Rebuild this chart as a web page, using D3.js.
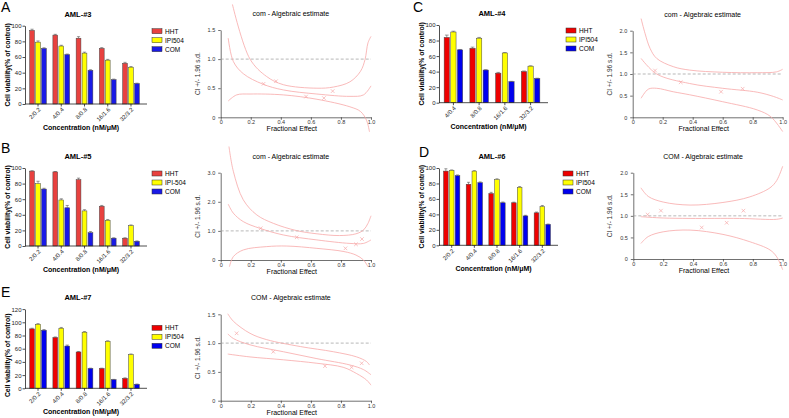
<!DOCTYPE html>
<html>
<head>
<meta charset="utf-8">
<script src="https://cdn.jsdelivr.net/npm/d3@7"></script>
<style>
  body { margin: 0; background: #fff; }
  svg { display: block; font-family: "Liberation Sans", Arial, sans-serif; }
</style>
</head>
<body>
<svg id="fig" width="789" height="418"></svg>
<script>
// categories
const conc5 = ["2/0.2", "4/0.4", "8/0.8", "16/1.6", "32/3.2"];
const conc4 = ["4/0.4", "8/0.8", "16/1.6", "32/3.2"];
const drugs = ["HHT", "IPI504", "COM"];
const drugsB = ["HHT", "IPI-504", "COM"];

// cell viability, % of control (HHT, IPI504, COM) + error bars
const aml3 = [[94, 88, 84, 71, 52], [79, 74, 65, 56, 47], [71, 63, 43, 31, 26]];
const aml3Err = [[1.5, 1, 2, 1, 1.2], [1.5, 1, 1.2, 1, 0.8], [0.8, 0.8, 0.8, 0.8, 0.6]];
const aml5 = [[96, 95, 85, 51, 10], [80, 59, 45, 33, 26], [73, 49, 17, 10, 6]];
const aml5Err = [[0.5, 0.5, 2, 1, 0.5], [3, 1.5, 1.5, 1, 1], [1, 3, 1.5, 0.5, 0.5]];
const aml4 = [[84, 70, 38, 40], [91, 83, 64, 47], [68, 42, 27, 31]];
const aml4Err = [[3, 1.5, 1, 0.8], [1, 1, 0.5, 0.5], [0.5, 0.5, 0.5, 0.5]];
const aml6 = [[96, 79, 67, 55, 42], [97, 96, 85, 75, 50], [90, 81, 55, 38, 27]];
const aml6Err = [[3, 2.5, 1.5, 0.8, 1], [0.5, 0.5, 1, 1, 1.5], [1, 1, 1, 0.8, 0.5]];
const aml7 = [[90, 77, 55, 30, 15], [97, 91, 85, 71, 51], [88, 64, 30, 13, 6]];
const aml7Err = [[1, 0.8, 0.8, 0.5, 0.8], [1, 1.2, 1, 1, 1], [1, 1.5, 0.5, 0.5, 0.5]];

// combination index (fa, CI)
const ciA_fit = [[0.05, 1.36], [0.084, 0.96], [0.15, 0.75], [0.28, 0.57], [0.417, 0.47], [0.64, 0.40], [0.86, 0.36], [0.95, 0.385], [1.0, 0.54]];
const ciA_up = [[0.078, 1.94], [0.195, 1.0], [0.306, 0.70], [0.417, 0.56], [0.64, 0.50], [0.75, 0.52], [0.86, 0.61], [0.93, 0.79], [0.96, 0.99], [0.98, 1.28], [1.0, 1.39]];
const ciA_lo = [[0.05, 0.28], [0.106, 0.385], [0.195, 0.40], [0.417, 0.385], [0.64, 0.31], [0.86, 0.18], [0.93, 0.10], [0.97, -0.05], [0.99, -0.25]];
const ciA_pts = [[0.285, 0.575], [0.368, 0.62], [0.568, 0.356], [0.687, 0.33], [0.745, 0.45]];

const ciB_fit = [[0.05, 1.92], [0.084, 1.61], [0.15, 1.32], [0.26, 1.09], [0.417, 0.86], [0.64, 0.69], [0.86, 0.57], [0.95, 0.57], [1.0, 0.69]];
const ciB_up = [[0.055, 3.9], [0.084, 3.05], [0.15, 2.07], [0.24, 1.55], [0.35, 1.26], [0.505, 1.01], [0.64, 0.90], [0.79, 0.84], [0.90, 0.90], [0.95, 1.03], [0.98, 1.26], [1.0, 1.52]];
const ciB_lo = [[0.058, -0.23], [0.084, 0.115], [0.15, 0.345], [0.306, 0.46], [0.44, 0.48], [0.64, 0.40], [0.82, 0.29], [0.90, 0.17], [0.95, 0.0], [0.98, -0.23]];
const ciB_pts = [[0.266, 1.09], [0.506, 0.78], [0.83, 0.40], [0.90, 0.54], [0.94, 0.72]];

const ciC_fit = [[0.056, 1.36], [0.16, 1.0], [0.38, 0.78], [0.60, 0.67], [0.83, 0.58], [0.94, 0.48], [1.0, 0.40]];
const ciC_up = [[0.056, 2.28], [0.082, 1.94], [0.116, 1.59], [0.16, 1.36], [0.27, 1.17], [0.38, 1.09], [0.60, 1.04], [0.83, 1.03], [0.96, 1.05], [1.0, 1.11]];
const ciC_lo = [[0.056, 0.44], [0.104, 0.65], [0.16, 0.67], [0.27, 0.59], [0.38, 0.52], [0.60, 0.36], [0.83, 0.17], [0.92, 0.015], [1.0, -0.33]];
const ciC_pts = [[0.149, 1.08], [0.32, 0.81], [0.589, 0.59], [0.733, 0.66]];

const ciD_fit = [[0.05, 0.98], [0.20, 0.95], [0.38, 0.94], [0.71, 0.94], [0.96, 0.92], [1.0, 0.95]];
const ciD_up = [[0.051, 1.65], [0.10, 1.45], [0.20, 1.32], [0.38, 1.25], [0.60, 1.31], [0.78, 1.44], [0.915, 1.65], [0.96, 1.82], [1.0, 2.15]];
const ciD_lo = [[0.051, 0.36], [0.10, 0.52], [0.20, 0.63], [0.38, 0.67], [0.60, 0.57], [0.78, 0.40], [0.915, 0.21], [0.96, 0.05], [1.0, -0.25]];
const ciD_pts = [[0.096, 1.03], [0.185, 1.12], [0.458, 0.73], [0.625, 0.84], [0.737, 1.12]];

const ciE_fit = [[0.047, 1.16], [0.084, 1.08], [0.195, 0.97], [0.417, 0.85], [0.64, 0.73], [0.86, 0.62], [0.95, 0.54], [1.0, 0.45]];
const ciE_up = [[0.047, 1.51], [0.084, 1.38], [0.195, 1.17], [0.306, 1.06], [0.53, 0.94], [0.75, 0.85], [0.905, 0.76], [0.97, 0.68], [0.99, 0.62]];
const ciE_lo = [[0.047, 0.81], [0.195, 0.76], [0.417, 0.71], [0.64, 0.65], [0.815, 0.58], [0.905, 0.47], [0.97, 0.36], [1.0, 0.27]];
const ciE_pts = [[0.106, 1.17], [0.35, 0.85], [0.694, 0.60], [0.871, 0.58], [0.938, 0.65]];

const svg = d3.select("#fig");
const pink = "#f7a8a8";

function fmtTick(d) { return d === 0 ? "0" : d.toFixed(1); }

function drawBars(c) {
    const g = svg.append("g");
    const x0 = d3.scaleBand().domain(c.cats).range([c.axisX, c.right - 3]).paddingInner(0.28).paddingOuter(0.2);
    const x1 = d3.scaleBand().domain(d3.range(3)).range([0, x0.bandwidth()]).paddingInner(0.2);
    const y = d3.scaleLinear().domain([0, c.yMax]).range([c.y0, c.yTop]);

    // panel letter + title
    g.append("text").attr("x", c.letterX).attr("y", c.letterY).attr("font-size", 14).text(c.letter);
    g.append("text").attr("x", c.axisX + 53).attr("y", c.yTop - 9).attr("text-anchor", "middle")
        .attr("font-size", 7.5).attr("font-weight", "bold").text(c.title);

    // bars
    c.values.forEach((vals, s) => {
        vals.forEach((v, i) => {
            const bx = x0(c.cats[i]) + x1(s);
            const e = c.errs[s][i];
            g.append("line").attr("x1", bx + x1.bandwidth() / 2).attr("x2", bx + x1.bandwidth() / 2)
                .attr("y1", y(v)).attr("y2", y(v + e)).attr("stroke", "#555").attr("stroke-width", 0.6);
            g.append("line").attr("x1", bx + 0.8).attr("x2", bx + x1.bandwidth() - 0.8)
                .attr("y1", y(v + e)).attr("y2", y(v + e)).attr("stroke", "#555").attr("stroke-width", 0.6);
            g.append("rect").attr("x", bx).attr("y", y(v)).attr("width", x1.bandwidth())
                .attr("height", y(0) - y(v)).attr("fill", c.colors[s])
                .attr("stroke", "#444").attr("stroke-width", 0.5);
        });
    });

    // axes
    const ya = g.append("g").attr("transform", `translate(${c.axisX},0)`)
        .call(d3.axisLeft(y).tickValues(d3.range(0, c.yMax + 1, 20)).tickSize(2.5).tickSizeOuter(0));
    const xa = g.append("g").attr("transform", `translate(0,${c.y0})`)
        .call(d3.axisBottom(x0).tickSize(2.5).tickSizeOuter(0));
    xa.select(".domain").attr("d", `M${c.axisX},0H${c.right}`);
    [ya, xa].forEach(a => {
        a.selectAll("path,line").attr("stroke", "#222").attr("stroke-width", 0.8);
        a.selectAll("text").attr("font-size", 6).attr("font-family", "Liberation Sans, Arial, sans-serif").attr("fill", "#222");
    });
    ya.selectAll("text").attr("x", -3.5);
    xa.selectAll("text").attr("text-anchor", "end").attr("dy", null)
        .attr("transform", "translate(3,6) rotate(-45)").attr("y", 0).attr("x", 0);

    g.append("text").attr("x", (c.axisX + c.right) / 2 - 5).attr("y", c.y0 + 26)
        .attr("text-anchor", "middle").attr("font-size", 7).attr("font-weight", "bold").text("Concentration (nM/\u03bcM)");
    g.append("text").attr("transform", `translate(${c.axisX - 15},${(c.y0 + y(100)) / 2}) rotate(-90)`)
        .attr("text-anchor", "middle").attr("font-size", 6.8).attr("font-weight", "bold").text("Cell viability(% of control)");

    // legend
    c.names.forEach((n, s) => {
        const ly = y(100) + 5.5 + s * 9;
        g.append("rect").attr("x", c.legendX).attr("y", ly - 2.5).attr("width", 10).attr("height", 5)
            .attr("fill", c.colors[s]).attr("stroke", "#333").attr("stroke-width", 0.5);
        g.append("text").attr("x", c.legendX + 13).attr("y", ly + 2.3).attr("font-size", 6.5).text(n);
    });
}

function drawCI(c) {
    const g = svg.append("g");
    const x = d3.scaleLinear().domain([0, 1]).range([c.axisX, c.right]);
    const y = d3.scaleLinear().domain([0, c.yMax]).range([c.y0, c.yTop]);

    g.append("text").attr("x", (c.axisX + c.right) / 2 - 5).attr("y", c.yTop - 14).attr("text-anchor", "middle")
        .attr("font-size", 7).text(c.title);

    const ya = g.append("g").attr("transform", `translate(${c.axisX},0)`)
        .call(d3.axisLeft(y).tickValues(c.yTicks).tickFormat(fmtTick).tickSize(2.5).tickSizeOuter(0));
    const xa = g.append("g").attr("transform", `translate(0,${c.y0})`)
        .call(d3.axisBottom(x).tickValues([0, 0.2, 0.4, 0.6, 0.8, 1.0]).tickFormat(fmtTick).tickSize(2.5).tickSizeOuter(0));
    [ya, xa].forEach(a => {
        a.selectAll("path,line").attr("stroke", "#333").attr("stroke-width", 0.7);
        a.selectAll("text").attr("font-size", 5.5).attr("font-family", "Liberation Sans, Arial, sans-serif").attr("fill", "#333");
    });
    xa.selectAll("text").attr("y", 3);

    g.append("text").attr("x", (c.axisX + c.right) / 2 - 4).attr("y", c.y0 + 14).attr("text-anchor", "middle")
        .attr("font-size", 7).text("Fractional Effect");
    g.append("text").attr("transform", `translate(${c.axisX - 21},${(c.y0 + c.yTop) / 2}) rotate(-90)`)
        .attr("text-anchor", "middle").attr("font-size", 6.5).attr("fill", "#333").text("CI +/- 1.96 s.d.");

    g.append("line").attr("x1", x(0)).attr("x2", x(1)).attr("y1", y(1)).attr("y2", y(1))
        .attr("stroke", "#999").attr("stroke-width", 0.7).attr("stroke-dasharray", "3,2");

    const line = d3.line().x(d => x(d[0])).y(d => y(d[1])).curve(d3.curveCatmullRom);
    [c.up, c.fit, c.lo].forEach(s => {
        g.append("path").attr("d", line(s)).attr("fill", "none").attr("stroke", pink).attr("stroke-width", 0.8);
    });
    c.pts.forEach(p => {
        const px = x(p[0]), py = y(p[1]), r = 1.8;
        g.append("path").attr("d", `M${px - r},${py - r}L${px + r},${py + r}M${px - r},${py + r}L${px + r},${py - r}`)
            .attr("stroke", pink).attr("stroke-width", 0.7);
    });
}

const colsAB = ["#e8413f", "#ffff00", "#1a1ae6"];
const colsCDE = ["#ee0000", "#ffff00", "#0000ee"];

drawBars({ cats: conc5, values: aml3, errs: aml3Err, names: drugs, colors: colsAB, title: "AML-#3", letter: "A",
    letterX: 1, letterY: 12, axisX: 25, right: 147, y0: 104, yTop: 25.7, yMax: 100, legendX: 152 });
drawBars({ cats: conc5, values: aml5, errs: aml5Err, names: drugsB, colors: colsAB, title: "AML-#5", letter: "B",
    letterX: 1, letterY: 153, axisX: 25, right: 147, y0: 246, yTop: 168, yMax: 100, legendX: 152 });
drawBars({ cats: conc4, values: aml4, errs: aml4Err, names: drugs, colors: colsCDE, title: "AML-#4", letter: "C",
    letterX: 413, letterY: 12, axisX: 439, right: 548, y0: 102.7, yTop: 25, yMax: 100, legendX: 566 });
drawBars({ cats: conc5, values: aml6, errs: aml6Err, names: drugs, colors: colsCDE, title: "AML-#6", letter: "D",
    letterX: 419, letterY: 157, axisX: 439, right: 558, y0: 245.3, yTop: 168, yMax: 100, legendX: 563 });
drawBars({ cats: conc5, values: aml7, errs: aml7Err, names: drugs, colors: colsCDE, title: "AML-#7", letter: "E",
    letterX: 1, letterY: 297, axisX: 25, right: 147, y0: 388.3, yTop: 309.1, yMax: 120, legendX: 152 });

drawCI({ title: "com - Algebraic estimate", axisX: 220.7, right: 371, y0: 117.3, yTop: 30, yMax: 1.5,
    yTicks: [0, 0.5, 1.0, 1.5], fit: ciA_fit, up: ciA_up, lo: ciA_lo, pts: ciA_pts });
drawCI({ title: "com - Algebraic estimate", axisX: 220.7, right: 371, y0: 260, yTop: 172.7, yMax: 3,
    yTicks: [0, 1, 2, 3], fit: ciB_fit, up: ciB_up, lo: ciB_lo, pts: ciB_pts });
drawCI({ title: "com - Algebraic estimate", axisX: 632.7, right: 782.7, y0: 117.3, yTop: 30.7, yMax: 2,
    yTicks: [0, 0.5, 1.0, 1.5, 2.0], fit: ciC_fit, up: ciC_up, lo: ciC_lo, pts: ciC_pts });
drawCI({ title: "COM - Algebraic estimate", axisX: 633.3, right: 782.7, y0: 259, yTop: 172.7, yMax: 2,
    yTicks: [0, 0.5, 1.0, 1.5, 2.0], fit: ciD_fit, up: ciD_up, lo: ciD_lo, pts: ciD_pts });
drawCI({ title: "COM - Algebraic estimate", axisX: 220.7, right: 371, y0: 400.7, yTop: 314.3, yMax: 1.5,
    yTicks: [0, 0.5, 1.0, 1.5], fit: ciE_fit, up: ciE_up, lo: ciE_lo, pts: ciE_pts });
</script>
</body>
</html>
